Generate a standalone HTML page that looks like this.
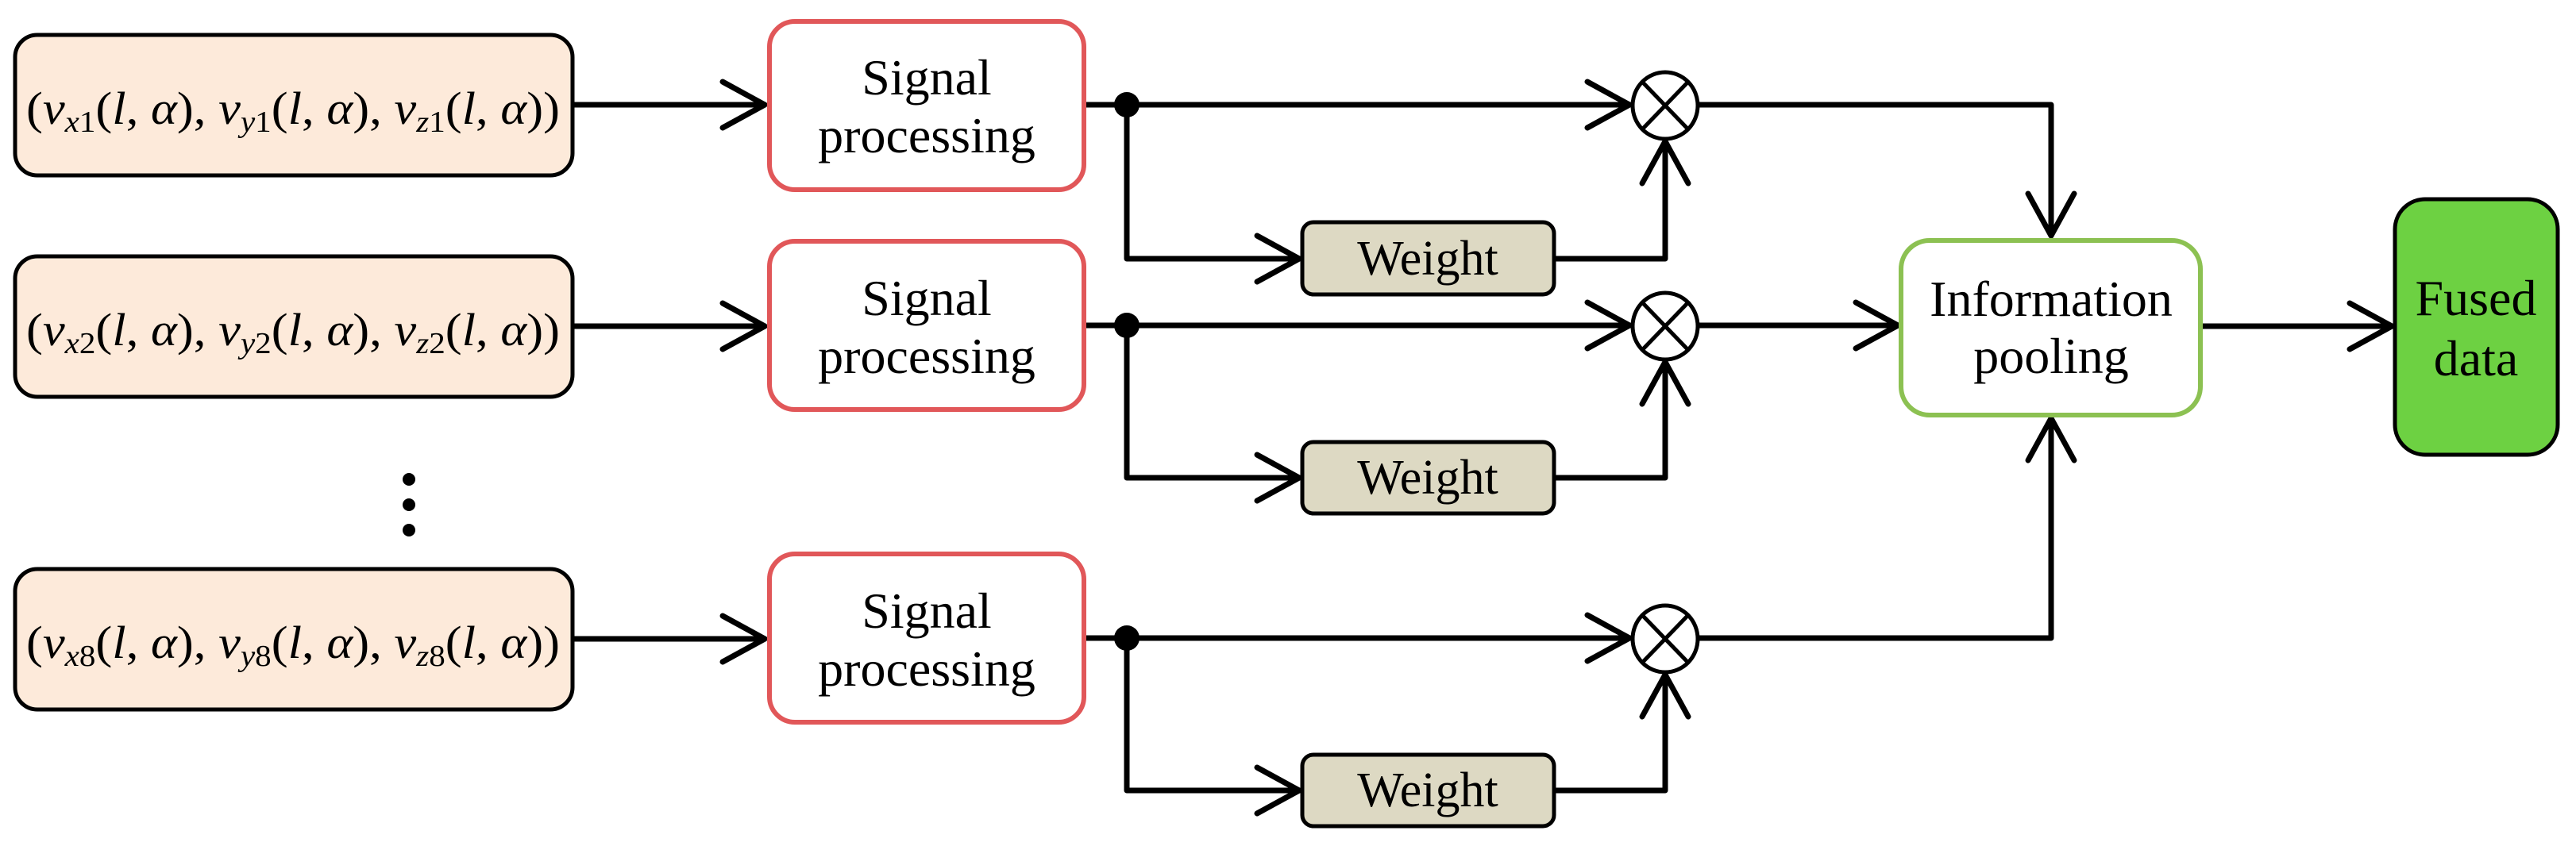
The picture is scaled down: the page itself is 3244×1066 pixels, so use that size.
<!DOCTYPE html>
<html><head><meta charset="utf-8"><style>
html,body{margin:0;padding:0;background:#fff;}
svg{display:block;}
svg text{font-family:"Liberation Serif","DejaVu Serif",serif !important;fill:#000;}
</style></head><body>
<svg width="3244" height="1066" viewBox="0 0 3244 1066" xmlns="http://www.w3.org/2000/svg" font-family="'Liberation Serif', 'DejaVu Serif', serif">
<g stroke="#000" stroke-width="7" fill="none" stroke-linecap="round" stroke-linejoin="round">
<line x1="721" y1="132" x2="963" y2="132"/><polyline points="910,103 963,132 910,161"/>
<line x1="721" y1="411" x2="963" y2="411"/><polyline points="910,382 963,411 910,440"/>
<line x1="721" y1="805" x2="963" y2="805"/><polyline points="910,776 963,805 910,834"/>
<line x1="1365" y1="132" x2="2052" y2="132"/><polyline points="1999,103 2052,132 1999,161"/>
<polyline points="1419,132 1419,326 1636,326"/><polyline points="1583,297 1636,326 1583,355"/>
<polyline points="1957,326 2097,326 2097,178"/><polyline points="2068,231 2097,178 2126,231"/>
<line x1="1365" y1="410" x2="2052" y2="410"/><polyline points="1999,381 2052,410 1999,439"/>
<polyline points="1419,410 1419,602 1636,602"/><polyline points="1583,573 1636,602 1583,631"/>
<polyline points="1957,602 2097,602 2097,456"/><polyline points="2068,509 2097,456 2126,509"/>
<line x1="1365" y1="804" x2="2052" y2="804"/><polyline points="1999,775 2052,804 1999,833"/>
<polyline points="1419,804 1419,996 1636,996"/><polyline points="1583,967 1636,996 1583,1025"/>
<polyline points="1957,996 2097,996 2097,850"/><polyline points="2068,903 2097,850 2126,903"/>
<polyline points="2139,132 2583,132 2583,297"/><polyline points="2554,244 2583,297 2612,244"/>
<line x1="2139" y1="410" x2="2390" y2="410"/><polyline points="2337,381 2390,410 2337,439"/>
<polyline points="2139,804 2583,804 2583,527"/><polyline points="2554,580 2583,527 2612,580"/>
<line x1="2771" y1="411" x2="3012" y2="411"/><polyline points="2959,382 3012,411 2959,440"/>
</g>
<g fill="#000">
<circle cx="1419" cy="132" r="16"/><circle cx="1419" cy="410" r="16"/><circle cx="1419" cy="804" r="16"/>
<circle cx="515" cy="604" r="8"/><circle cx="515" cy="636" r="8"/><circle cx="515" cy="668" r="8"/>
</g>
<g stroke="#000" stroke-width="5" fill="#fff">
<ellipse cx="2097" cy="133" rx="41" ry="42"/><ellipse cx="2097" cy="411" rx="41" ry="42"/><ellipse cx="2097" cy="805" rx="41" ry="42"/>
</g>
<g stroke="#000" stroke-width="5">
<line x1="2068" y1="103" x2="2126" y2="163"/><line x1="2126" y1="103" x2="2068" y2="163"/>
<line x1="2068" y1="381" x2="2126" y2="441"/><line x1="2126" y1="381" x2="2068" y2="441"/>
<line x1="2068" y1="775" x2="2126" y2="835"/><line x1="2126" y1="775" x2="2068" y2="835"/>
</g>
<g fill="#fdeada" stroke="#000" stroke-width="5">
<rect x="19" y="44" width="702" height="177" rx="28"/>
<rect x="19" y="323" width="702" height="177" rx="28"/>
<rect x="19" y="717" width="702" height="177" rx="28"/>
</g>
<g font-size="58">
<text x="33" y="156" textLength="672" lengthAdjust="spacingAndGlyphs">(<tspan font-style="italic">v</tspan><tspan font-size="38" dy="10"><tspan font-style="italic">x</tspan>1</tspan><tspan dy="-10">(</tspan><tspan font-style="italic">l</tspan>, <tspan font-style="italic">α</tspan>), <tspan font-style="italic">v</tspan><tspan font-size="38" dy="10"><tspan font-style="italic">y</tspan>1</tspan><tspan dy="-10">(</tspan><tspan font-style="italic">l</tspan>, <tspan font-style="italic">α</tspan>), <tspan font-style="italic">v</tspan><tspan font-size="38" dy="10"><tspan font-style="italic">z</tspan>1</tspan><tspan dy="-10">(</tspan><tspan font-style="italic">l</tspan>, <tspan font-style="italic">α</tspan>))</text>
<text x="33" y="435" textLength="672" lengthAdjust="spacingAndGlyphs">(<tspan font-style="italic">v</tspan><tspan font-size="38" dy="10"><tspan font-style="italic">x</tspan>2</tspan><tspan dy="-10">(</tspan><tspan font-style="italic">l</tspan>, <tspan font-style="italic">α</tspan>), <tspan font-style="italic">v</tspan><tspan font-size="38" dy="10"><tspan font-style="italic">y</tspan>2</tspan><tspan dy="-10">(</tspan><tspan font-style="italic">l</tspan>, <tspan font-style="italic">α</tspan>), <tspan font-style="italic">v</tspan><tspan font-size="38" dy="10"><tspan font-style="italic">z</tspan>2</tspan><tspan dy="-10">(</tspan><tspan font-style="italic">l</tspan>, <tspan font-style="italic">α</tspan>))</text>
<text x="33" y="829" textLength="672" lengthAdjust="spacingAndGlyphs">(<tspan font-style="italic">v</tspan><tspan font-size="38" dy="10"><tspan font-style="italic">x</tspan>8</tspan><tspan dy="-10">(</tspan><tspan font-style="italic">l</tspan>, <tspan font-style="italic">α</tspan>), <tspan font-style="italic">v</tspan><tspan font-size="38" dy="10"><tspan font-style="italic">y</tspan>8</tspan><tspan dy="-10">(</tspan><tspan font-style="italic">l</tspan>, <tspan font-style="italic">α</tspan>), <tspan font-style="italic">v</tspan><tspan font-size="38" dy="10"><tspan font-style="italic">z</tspan>8</tspan><tspan dy="-10">(</tspan><tspan font-style="italic">l</tspan>, <tspan font-style="italic">α</tspan>))</text>
</g>
<g fill="#fff" stroke="#e15759" stroke-width="6">
<rect x="969" y="27" width="396" height="212" rx="32"/>
<rect x="969" y="304" width="396" height="212" rx="32"/>
<rect x="969" y="698" width="396" height="212" rx="32"/>
</g>
<g font-size="64" text-anchor="middle">
<text x="1167" y="119">Signal</text><text x="1167" y="192">processing</text>
<text x="1167" y="397">Signal</text><text x="1167" y="470">processing</text>
<text x="1167" y="791">Signal</text><text x="1167" y="864">processing</text>
</g>
<g fill="#ddd9c3" stroke="#000" stroke-width="5">
<rect x="1640" y="280" width="317" height="91" rx="14"/>
<rect x="1640" y="557" width="317" height="90" rx="14"/>
<rect x="1640" y="951" width="317" height="90" rx="14"/>
</g>
<g font-size="62" text-anchor="middle">
<text x="1798" y="346">Weight</text>
<text x="1798" y="622">Weight</text>
<text x="1798" y="1016">Weight</text>
</g>
<rect x="2394" y="303" width="377" height="220" rx="36" fill="#fff" stroke="#8cc152" stroke-width="6"/>
<g font-size="64" text-anchor="middle">
<text x="2583" y="398">Information</text>
<text x="2583" y="470">pooling</text>
</g>
<rect x="3016" y="251" width="205" height="322" rx="38" fill="#6dd142" stroke="#000" stroke-width="5"/>
<g font-size="64" text-anchor="middle">
<text x="3118" y="397">Fused</text>
<text x="3118" y="473">data</text>
</g>
</svg>
</body></html>
